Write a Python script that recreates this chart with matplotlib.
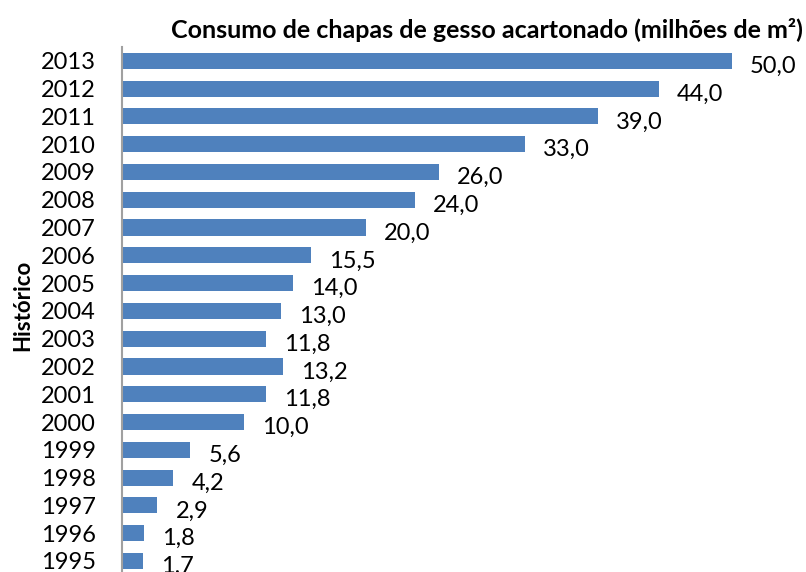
import matplotlib.pyplot as plt

plt.rcParams['font.family'] = ['Lato', 'DejaVu Sans']

anos = ['1995', '1996', '1997', '1998', '1999', '2000', '2001', '2002', '2003',
        '2004', '2005', '2006', '2007', '2008', '2009', '2010', '2011', '2012', '2013']
consumo = [1.7, 1.8, 2.9, 4.2, 5.6, 10.0, 11.8, 13.2, 11.8,
           13.0, 14.0, 15.5, 20.0, 24.0, 26.0, 33.0, 39.0, 44.0, 50.0]

fig = plt.figure(figsize=(8.06, 5.72), dpi=100)
ax = fig.add_axes([122 / 806, -0.005, 671 / 806, 0.923])

y = range(len(anos))
ax.barh(y, consumo, height=0.58, color='#4f81bd')
ax.set_yticks(list(y))
ax.set_yticklabels(anos, fontsize=17)
ax.tick_params(axis='y', length=0, pad=19)
ax.set_ylim(-0.5, len(anos) - 0.5)
ax.set_xlim(0, 55)
ax.set_xticks([])

for spine in ['top', 'right', 'bottom']:
    ax.spines[spine].set_visible(False)
ax.spines['left'].set_color('#a0a0a0')
ax.spines['left'].set_linewidth(1.5)

for yi, v in zip(y, consumo):
    ax.annotate(f'{v:.1f}'.replace('.', ','), (v, yi), xytext=(13, -4),
                textcoords='offset points', va='center', ha='left', fontsize=17)

fig.text(487 / 806, 1 - 30 / 572, 'Consumo de chapas de gesso acartonado (milhões de m²)',
         ha='center', va='center', fontsize=18, fontweight='bold')
fig.text(23 / 806, 1 - 305 / 572, 'Histórico', rotation=90, ha='center', va='center',
         fontsize=16, fontweight='bold')

fig.savefig('out.png', dpi=100)
